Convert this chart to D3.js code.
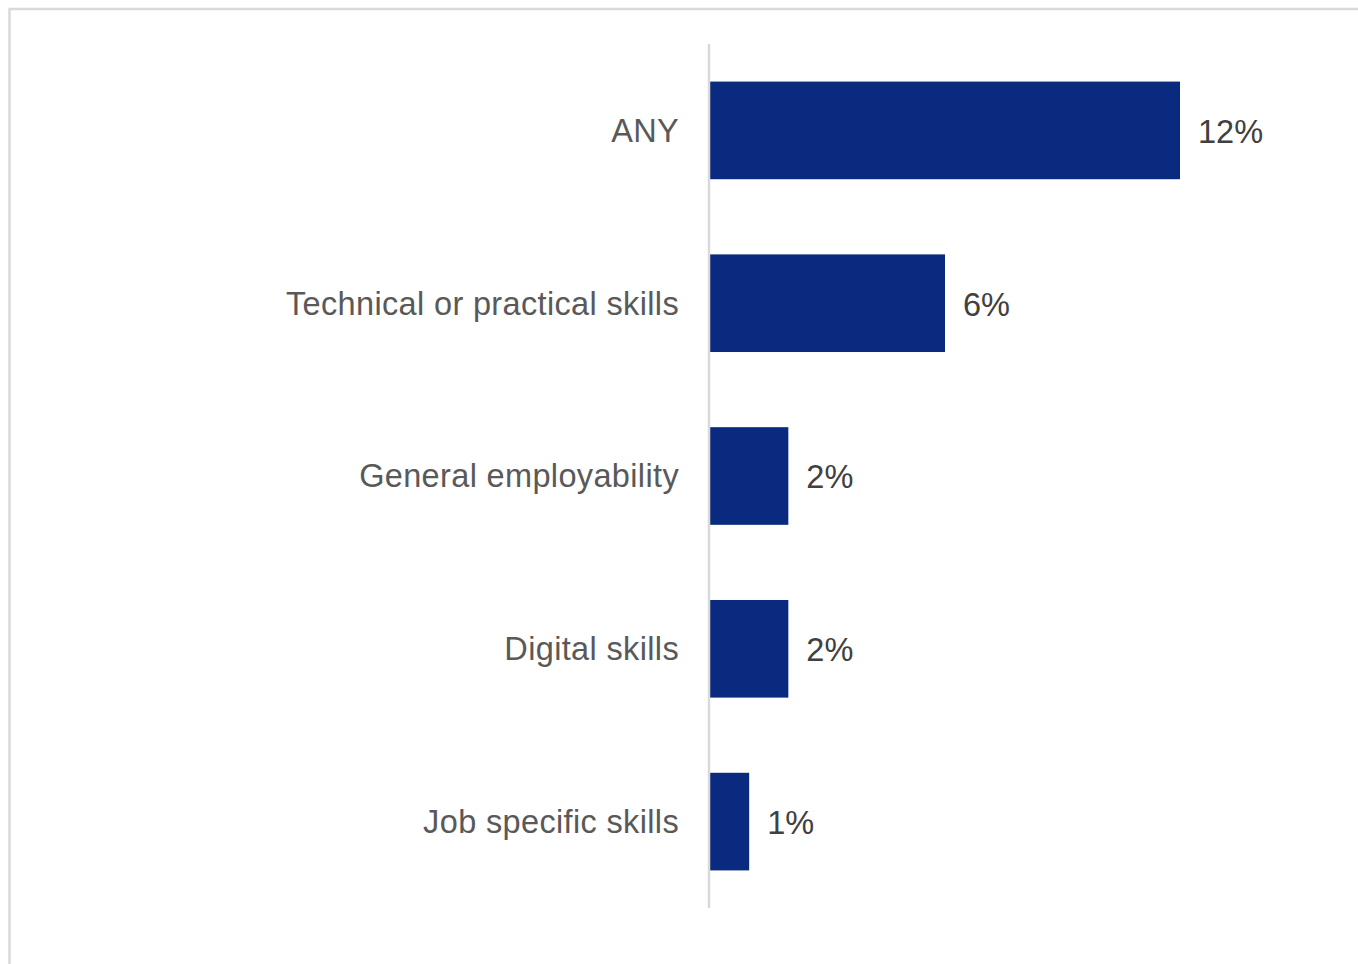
<!DOCTYPE html>
<html>
<head>
<meta charset="utf-8">
<script src="https://cdn.jsdelivr.net/npm/d3@7"></script>
<style>
  html, body { margin: 0; padding: 0; background: #fff; }
  svg { display: block; }
</style>
</head>
<body>
<script>
// Share of respondents by type of skills training
const categories = ["ANY", "Technical or practical skills", "General employability", "Digital skills", "Job specific skills"];
const values = [12, 6, 2, 2, 1];
const valueLabels = ["12%", "6%", "2%", "2%", "1%"];

const W = 1358, H = 964;
const svg = d3.select("body").append("svg").attr("width", W).attr("height", H);

// outer frame (top and left edges visible)
svg.append("rect")
  .attr("x", 9.5).attr("y", 9).attr("width", W + 20).attr("height", H + 20)
  .attr("fill", "#fff").attr("stroke", "#d9d9d9").attr("stroke-width", 2.5);

const axisX = 709;
const x = d3.scaleLinear().domain([0, 12]).range([axisX + 1, 1180]);
const y = d3.scaleBand().domain(categories).range([44, 908]).paddingInner(0.435).paddingOuter(0.2175);

const font = "'Liberation Sans', Arial, sans-serif";
const fontSize = 32.5;

svg.selectAll("rect.bar")
  .data(values)
  .join("rect")
  .attr("class", "bar")
  .attr("x", x(0))
  .attr("y", (d, i) => y(categories[i]))
  .attr("width", d => x(d) - x(0))
  .attr("height", y.bandwidth())
  .attr("fill", "#0a2a7f");

// category axis line
svg.append("line")
  .attr("x1", axisX).attr("x2", axisX)
  .attr("y1", 44).attr("y2", 908)
  .attr("stroke", "#d9d9d9").attr("stroke-width", 2.5);

// category labels
svg.selectAll("text.cat")
  .data(categories)
  .join("text")
  .attr("class", "cat")
  .attr("x", axisX - 30)
  .attr("y", d => y(d) + y.bandwidth() / 2)
  .attr("dy", "0.35em")
  .attr("text-anchor", "end")
  .attr("font-family", font)
  .attr("font-size", fontSize)
  .attr("letter-spacing", 0.35)
  .attr("fill", "#595959")
  .text(d => d);

// value labels
svg.selectAll("text.val")
  .data(values)
  .join("text")
  .attr("class", "val")
  .attr("x", d => x(d) + 18)
  .attr("y", (d, i) => y(categories[i]) + y.bandwidth() / 2)
  .attr("dy", "0.38em")
  .attr("font-family", font)
  .attr("font-size", fontSize)
  .attr("fill", "#404040")
  .text((d, i) => valueLabels[i]);
</script>
</body>
</html>
